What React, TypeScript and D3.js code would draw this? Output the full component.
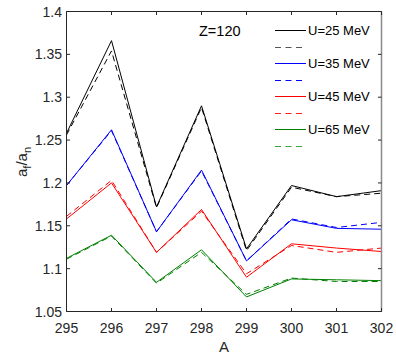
import React from "react";
import * as d3 from "d3";

// Mass numbers along the x axis
const massNumbers = [295, 296, 297, 298, 299, 300, 301, 302];

// Level-density parameter ratios a_f/a_n, solid and dashed curves for each excitation energy
const u25Solid = [1.258, 1.366, 1.172, 1.290, 1.123, 1.197, 1.184, 1.191];
const u25Dashed = [1.256, 1.354, 1.171, 1.288, 1.121, 1.195, 1.184, 1.188];
const u35Solid = [1.197, 1.262, 1.143, 1.215, 1.109, 1.157, 1.147, 1.146];
const u35Dashed = [1.197, 1.261, 1.143, 1.214, 1.109, 1.158, 1.148, 1.154];
const u45Solid = [1.158, 1.200, 1.119, 1.169, 1.090, 1.129, 1.124, 1.120];
const u45Dashed = [1.161, 1.203, 1.119, 1.167, 1.094, 1.127, 1.119, 1.124];
const u65Solid = [1.112, 1.139, 1.084, 1.122, 1.067, 1.088, 1.087, 1.086];
const u65Dashed = [1.111, 1.138, 1.083, 1.119, 1.070, 1.089, 1.085, 1.085];

const seriesLabels = ["U=25 MeV", "U=35 MeV", "U=45 MeV", "U=65 MeV"];
const seriesColors = ["#000000", "#0000ff", "#ff0000", "#008000"];
const legendDashColors = ["#555555", "#0000ff", "#ff2020", "#40a040"];
const solidSeries = [u25Solid, u35Solid, u45Solid, u65Solid];
const dashedSeries = [u25Dashed, u35Dashed, u45Dashed, u65Dashed];

const yTicks = [1.05, 1.1, 1.15, 1.2, 1.25, 1.3, 1.35, 1.4];
const xTicks = massNumbers;

const W = 396;
const H = 354;
const plot = { left: 66.5, right: 381.5, top: 11.5, bottom: 311.5 };
const FONT = "'Liberation Sans', Arial, Helvetica, sans-serif";

export default function App() {
  const x = d3.scaleLinear().domain([295, 302]).range([plot.left, plot.right]);
  const y = d3.scaleLinear().domain([1.05, 1.4]).range([plot.bottom, plot.top]);

  const line = d3
    .line<number>()
    .x((_, i) => x(massNumbers[i]))
    .y((v) => y(v));

  const tickLen = 3.5;
  const axisColor = "#262626";

  const legendX0 = 275;
  const legendX1 = 306;
  const legendTop = 30.5;
  const legendStep = 16.5;

  return (
    <svg
      width={W}
      height={H}
      style={{ position: "absolute", left: 0, top: 0, background: "#fff" }}
      fontFamily={FONT}
    >
      <rect x={0} y={0} width={W} height={H} fill="#fff" />

      {/* data curves */}
      <g fill="none" strokeWidth={1}>
        {solidSeries.map((s, i) => (
          <path key={"s" + i} d={line(s) || ""} stroke={seriesColors[i]} />
        ))}
        {dashedSeries.map((s, i) => (
          <path
            key={"d" + i}
            d={line(s) || ""}
            stroke={seriesColors[i]}
            strokeDasharray="6,4"
          />
        ))}
      </g>

      {/* axes box */}
      <line x1={plot.left} x2={plot.right} y1={plot.top} y2={plot.top} stroke={axisColor} />
      <line x1={plot.left} x2={plot.left} y1={plot.top} y2={plot.bottom} stroke={axisColor} />
      <line x1={plot.left} x2={plot.right} y1={plot.bottom} y2={plot.bottom} stroke={axisColor} />
      <line x1={plot.right} x2={plot.right} y1={plot.top} y2={plot.bottom} stroke="#8a8a8a" strokeWidth={1.5} />

      {/* x ticks */}
      {xTicks.map((t) => (
        <g key={"xt" + t}>
          <line x1={x(t)} x2={x(t)} y1={plot.bottom} y2={plot.bottom - tickLen} stroke={axisColor} />
          <line x1={x(t)} x2={x(t)} y1={plot.top} y2={plot.top + tickLen} stroke={axisColor} />
          <text x={x(t)} y={333} textAnchor="middle" fontSize={14} fill="#262626">
            {t}
          </text>
        </g>
      ))}

      {/* y ticks */}
      {yTicks.map((t) => (
        <g key={"yt" + t}>
          <line x1={plot.left} x2={plot.left + tickLen} y1={y(t)} y2={y(t)} stroke={axisColor} />
          <line x1={plot.right} x2={plot.right - tickLen} y1={y(t)} y2={y(t)} stroke={axisColor} />
          <text x={62} y={y(t) + 5} textAnchor="end" fontSize={14} fill="#262626">
            {d3.format("~g")(t)}
          </text>
        </g>
      ))}

      {/* axis titles */}
      <text x={224} y={352} textAnchor="middle" fontSize={15} fill="#262626">
        A
      </text>
      <text
        transform="translate(27,162) rotate(-90)"
        textAnchor="middle"
        fontSize={15}
        fill="#262626"
      >
        a<tspan fontSize={11} dy={4}>f</tspan>
        <tspan dy={-4}>/a</tspan>
        <tspan fontSize={11} dy={4}>n</tspan>
      </text>

      {/* annotation */}
      <text x={199} y={36} fontSize={14.5} fill="#000">
        Z=120
      </text>

      {/* legend */}
      {seriesLabels.map((lab, i) => {
        const ySolid = legendTop + i * 2 * legendStep;
        const yDash = Math.round(ySolid + legendStep) + 0.5;
        return (
          <g key={"lg" + i}>
            <line x1={legendX0} x2={legendX1} y1={ySolid} y2={ySolid} stroke={seriesColors[i]} />
            <text x={308} y={ySolid + 4.5} fontSize={13} fill="#000">
              {lab}
            </text>
            <line
              x1={legendX0}
              x2={legendX1}
              y1={yDash}
              y2={yDash}
              stroke={legendDashColors[i]}
              strokeWidth={1.2}
              strokeDasharray="6,4.5"
            />
          </g>
        );
      })}
    </svg>
  );
}
